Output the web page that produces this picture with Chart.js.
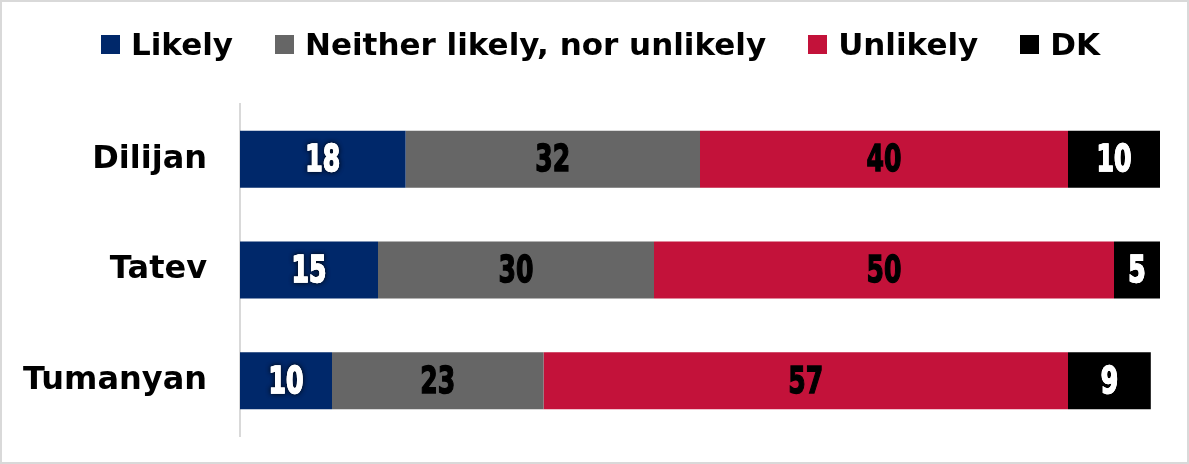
<!DOCTYPE html>
<html lang="en">

<head>
    <meta charset="UTF-8">
    <title>Likelihood by community</title>
    <script src="https://cdn.jsdelivr.net/npm/chart.js"></script>
    <style>
        html, body { margin: 0; padding: 0; background: #fff; }
        .frame { position: relative; width: 1189px; height: 464px; overflow: hidden; }
        .frame canvas { position: absolute; left: 0; top: 0; }
        .border { position: absolute; inset: 0; border: 2px solid #d9d9d9; pointer-events: none; }
        .legend {
            position: absolute; left: 12px; right: 0; top: 26px;
            display: flex; justify-content: center; align-items: center;
            font: bold 31px "DejaVu Sans", sans-serif; color: #000;
        }
        .legend .item { display: flex; align-items: center; margin: 0 21px; }
        .legend .box { width: 19px; height: 19px; margin-right: 11px; }
    </style>
</head>

<body>
    <div class="frame">
        <canvas id="chart" width="1189" height="464"></canvas>
        <div class="legend" id="legend"></div>
        <div class="border"></div>
    </div>
<script>
    // categories and answer shares (%)
    const TOWNS = ['Dilijan', 'Tatev', 'Tumanyan'];
    const LIKELY = [18, 15, 10];
    const NEITHER = [32, 30, 23];
    const UNLIKELY = [40, 50, 57];
    const DK = [10, 5, 9];

    const SERIES_NAMES = ['Likely', 'Neither likely, nor unlikely', 'Unlikely', 'DK'];
    const SERIES_DATA = [LIKELY, NEITHER, UNLIKELY, DK];
    const COLORS = ['#00286a', '#666666', '#c3123a', '#000000'];
    const LABEL_COLORS = ['#ffffff', '#000000', '#000000', '#ffffff'];

    // legend on top
    const legend = document.getElementById('legend');
    SERIES_NAMES.forEach((name, i) => {
        const item = document.createElement('div');
        item.className = 'item';
        item.innerHTML = '<span class="box" style="background:' + COLORS[i] + '"></span><span>' + name + '</span>';
        legend.appendChild(item);
    });

    function drawValue(c, text, color) {
        c.fillStyle = color;
        c.strokeStyle = color;
        c.lineWidth = 1.5;
        c.fillText(text, 0, 0);
        c.strokeText(text, 0, 0);
    }

    // numbers inside each segment, drawn narrow
    const barValues = {
        id: 'barValues',
        afterDatasetsDraw(chart) {
            const c = chart.ctx;
            chart.data.datasets.forEach((ds, i) => {
                const meta = chart.getDatasetMeta(i);
                meta.data.forEach((bar, j) => {
                    c.save();
                    c.translate((bar.x + bar.base) / 2, bar.y + 2);
                    c.scale(0.66, 1);
                    c.font = 'bold 38px "DejaVu Sans", sans-serif';
                    c.textAlign = 'center';
                    c.textBaseline = 'middle';
                    if (LABEL_COLORS[i] === '#ffffff') {
                        // dark glow first, then clean text on top
                        c.shadowColor = 'rgba(0,0,0,0.9)';
                        c.shadowBlur = 5;
                        drawValue(c, ds.data[j], LABEL_COLORS[i]);
                        c.shadowColor = 'transparent';
                        c.shadowBlur = 0;
                    }
                    drawValue(c, ds.data[j], LABEL_COLORS[i]);
                    c.restore();
                });
            });
        }
    };

    new Chart(document.getElementById('chart'), {
        type: 'bar',
        data: {
            labels: TOWNS,
            datasets: SERIES_NAMES.map((name, i) => ({
                label: name,
                data: SERIES_DATA[i],
                backgroundColor: COLORS[i],
                borderWidth: 0,
                barPercentage: 0.515,
                categoryPercentage: 1
            }))
        },
        options: {
            indexAxis: 'y',
            responsive: false,
            animation: false,
            layout: { padding: { left: 0, right: 29, top: 104, bottom: 28 } },
            plugins: {
                legend: { display: false },
                tooltip: { enabled: false }
            },
            scales: {
                x: { stacked: true, min: 0, max: 100, display: false },
                y: {
                    stacked: true,
                    afterFit(scale) { scale.width = 240; },
                    // tick marks hidden, their length only pushes the labels left
                    grid: { display: false, drawTicks: true, tickLength: 33 },
                    border: { display: true, color: '#d9d9d9', width: 2 },
                    ticks: {
                        padding: 0,
                        color: '#000',
                        font: { family: '"DejaVu Sans", sans-serif', size: 32, weight: 'bold' }
                    }
                }
            }
        },
        plugins: [barValues]
    });
</script>
</body>

</html>
